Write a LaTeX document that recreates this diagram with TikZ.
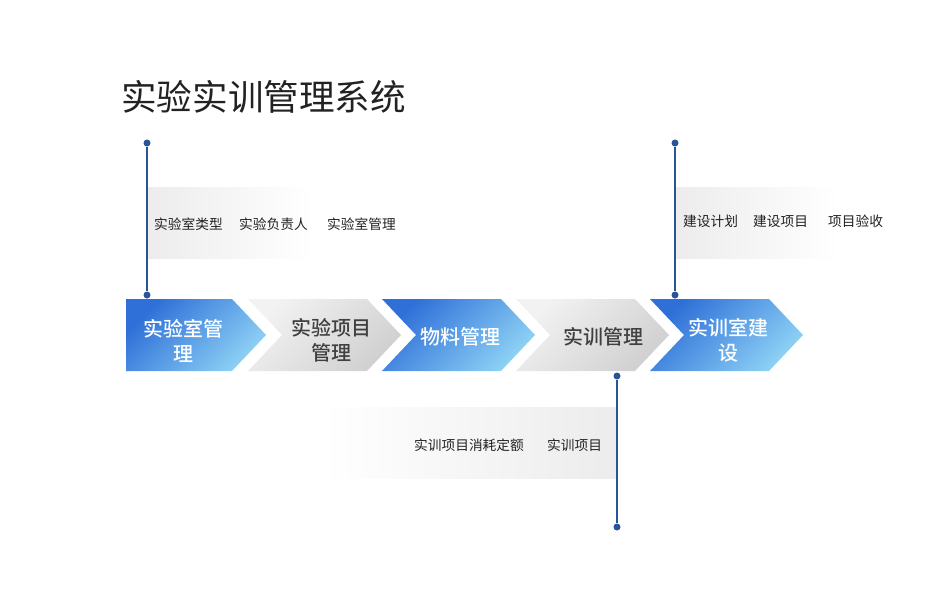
\documentclass[tikz,border=0pt]{standalone}
\usepackage{fontspec}
\newfontfamily\cjk[BoldFont={Noto Sans CJK SC Medium}]{Noto Sans CJK SC}
\definecolor{barblue}{RGB}{42,84,152}
\definecolor{darkblue}{RGB}{46,111,216}
\definecolor{paleblue}{RGB}{142,210,245}
\definecolor{greytop}{RGB}{242,242,242}
\definecolor{greybot}{RGB}{208,208,208}
\definecolor{stripgrey}{RGB}{236,236,236}
\definecolor{labelgrey}{RGB}{64,64,64}
\definecolor{itemblack}{RGB}{34,34,34}
\begin{document}
\begin{tikzpicture}[x=1pt, y=-1pt,
            bluearr/.style={top color=darkblue, bottom color=paleblue, shading angle=45},
            greyarr/.style={top color=greytop, bottom color=greybot, shading angle=45},
            arrtxt/.style={font=\cjk\bfseries\fontsize{20}{25}\selectfont, align=center, inner sep=0},
            item/.style={font=\cjk\fontsize{13.7}{16}\selectfont, text=itemblack, inner sep=0, anchor=west},
            dot/.style={circle, fill=barblue, inner sep=0, minimum size=7pt},
            bar/.style={draw=barblue, line width=2pt},
        ]
        \useasboundingbox (0,0) rectangle (950,600);
        \node[font=\cjk\fontsize{35.6}{40}\selectfont, text=itemblack, inner sep=0, anchor=west] (title) at (121,97) {实验实训管理系统};
        % fading strips
        \shade[left color=stripgrey, right color=white] (147,187) rectangle (313,258);
        \shade[left color=stripgrey, right color=white] (675,187) rectangle (840,258);
        \shade[left color=white, right color=stripgrey] (323,407) rectangle (617,478);
        % process arrows
        \shade[bluearr] (126,299) -- (232,299) -- (266,335) -- (232,371) -- (126,371) -- cycle;
        \shade[greyarr] (248,299) -- (367,299) -- (401,335) -- (367,371) -- (248,371) -- (282,335) -- cycle;
        \shade[bluearr] (382,299) -- (501,299) -- (535,335) -- (501,371) -- (382,371) -- (416,335) -- cycle;
        \shade[greyarr] (516,299) -- (635,299) -- (669,335) -- (635,371) -- (516,371) -- (550,335) -- cycle;
        \shade[bluearr] (650,299) -- (769,299) -- (803,335) -- (769,371) -- (650,371) -- (684,335) -- cycle;
        \node[arrtxt, text=white] (lab) at (183,341) {实验室管\\理};
        \node[arrtxt, text=labelgrey] (proj) at (331,340) {实验项目\\管理};
        \node[arrtxt, text=white] (goods) at (460,337) {物料管理};
        \node[arrtxt, text=labelgrey] (train) at (603,337) {实训管理};
        \node[arrtxt, text=white] (build) at (728,340) {实训室建\\设};
        % timeline bars
        \node[dot] (L1) at (147,143) {};
        \node[dot] (L2) at (147,295) {};
        \draw[bar] (L1) -- (L2);
        \node[dot] (R1) at (675,143) {};
        \node[dot] (R2) at (675,295) {};
        \draw[bar] (R1) -- (R2);
        \node[dot] (B1) at (617,376) {};
        \node[dot] (B2) at (617,527) {};
        \draw[bar] (B1) -- (B2);
        % items
        \node[item] (labtype) at (154,224) {实验室类型};
        \node[item] (labhead) at (239,224) {实验负责人};
        \node[item] (labmgmt) at (327,224) {实验室管理};
        \node[item] (plan) at (683,221) {建设计划};
        \node[item] (buildproj) at (753,221) {建设项目};
        \node[item] (accept) at (828,221) {项目验收};
        \node[item] (quota) at (414,445) {实训项目消耗定额};
        \node[item] (trainproj) at (547,445) {实训项目};
    \end{tikzpicture}
\end{document}
